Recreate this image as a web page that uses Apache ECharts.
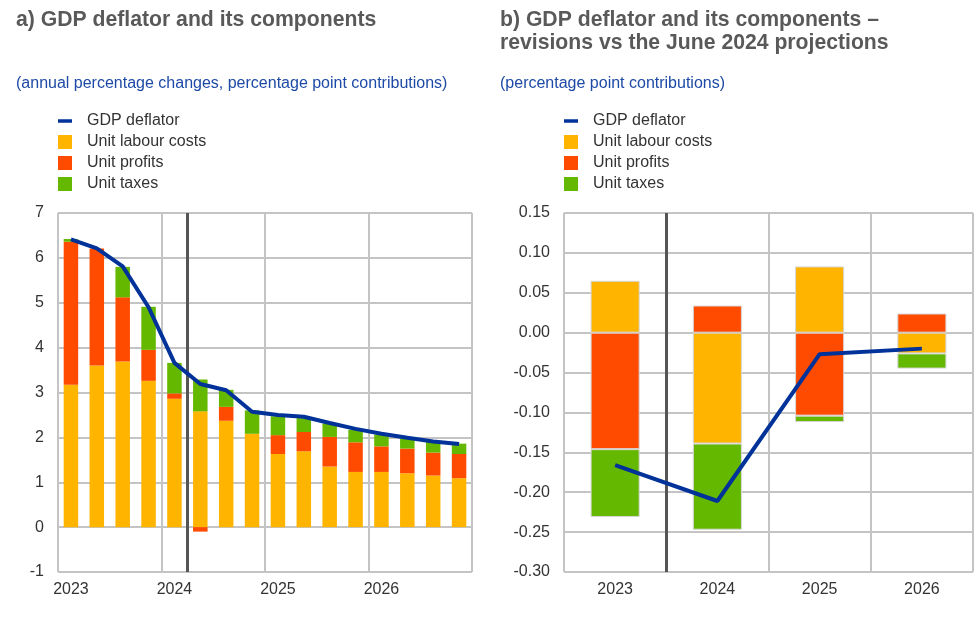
<!DOCTYPE html>
<html>
<head>
<meta charset="utf-8">
<script src="https://cdn.jsdelivr.net/npm/echarts@6/dist/echarts.min.js"></script>
<style>html,body{margin:0;padding:0;background:#fff}#c{width:976px;height:627px}</style>
</head>
<body>
<div id="c"></div>
<script>
// ---------- Data: panel a (quarterly) ----------
const quarters = ['2023Q1','2023Q2','2023Q3','2023Q4','2024Q1','2024Q2','2024Q3','2024Q4',
                  '2025Q1','2025Q2','2025Q3','2025Q4','2026Q1','2026Q2','2026Q3','2026Q4'];
const aGdpDeflator = [6.41,6.21,5.81,4.90,3.66,3.19,3.05,2.57,2.50,2.46,2.32,2.19,2.08,1.99,1.91,1.85];
const aUnitLabour  = [3.17,3.60,3.69,3.26,2.86,2.58,2.37,2.08,1.63,1.69,1.35,1.23,1.23,1.20,1.15,1.09];
const aUnitProfits = [3.19,2.61,1.43,0.69,0.12,-0.10,0.31,0.00,0.42,0.43,0.66,0.66,0.57,0.55,0.51,0.54];
const aUnitTaxes   = [0.06,0.00,0.68,0.96,0.68,0.71,0.38,0.52,0.42,0.31,0.30,0.28,0.26,0.22,0.24,0.23];
const aProjectionStart = 5;   // boundary index where projections begin
const aYAxis = {min:-1, max:7, interval:1};

// ---------- Data: panel b (annual revisions) ----------
const years = ['2023','2024','2025','2026'];
const bGdpDeflator = [-0.166,-0.211,-0.027,-0.020];
const bUnitLabour  = [0.065,-0.139,0.083,-0.026];
const bUnitProfits = [-0.146,0.034,-0.104,0.024];
const bUnitTaxes   = [-0.085,-0.108,-0.008,-0.019];
const bProjectionStart = 1;
const bYAxis = {min:-0.30, max:0.15, interval:0.05};

const names = ['GDP deflator','Unit labour costs','Unit profits','Unit taxes'];
const colors = {line:'#003299', ulc:'#FFB400', prof:'#FF4B00', tax:'#65B800'};
const FONT = 'Liberation Sans, Arial, sans-serif';
const gridColor = '#c4c4c4';

const chart = echarts.init(document.getElementById('c'));

function legend(left){
  return {
    left: left, top: 113, padding:0, orient:'vertical', itemWidth:14, itemHeight:14, itemGap:5,
    selectedMode:false,
    textStyle:{fontFamily:FONT, fontSize:16, color:'#333', padding:[0,0,0,10]},
    data:[
      {name:names[0], icon:'path://M0,0H16V4H0Z'},
      {name:names[1], icon:'rect'},
      {name:names[2], icon:'rect'},
      {name:names[3], icon:'rect'}
    ]
  };
}

function barSeries(name, data, color, gi, width, border){
  return {
    name:name, type:'bar', stack:'s'+gi, xAxisIndex:gi*2, yAxisIndex:gi,
    data:data, barWidth:width, z:2,
    itemStyle:{color:color, borderColor: border ? '#d6d6d6' : color, borderWidth: border ? 1 : 0}
  };
}

chart.setOption({
  animation:false,
  textStyle:{fontFamily:FONT},
  title:[
    {text:'a) GDP deflator and its components', left:16, top:9, padding:0,
     textStyle:{fontFamily:FONT, fontSize:21.2, fontWeight:'bold', color:'#595959', lineHeight:23}},
    {text:'(annual percentage changes, percentage point contributions)', left:16, top:76, padding:0,
     textStyle:{fontFamily:FONT, fontSize:16, fontWeight:'normal', color:'#1d4aa6', lineHeight:16}},
    {text:'b) GDP deflator and its components –\nrevisions vs the June 2024 projections', left:500, top:9, padding:0,
     textStyle:{fontFamily:FONT, fontSize:21.2, fontWeight:'bold', color:'#595959', lineHeight:23}},
    {text:'(percentage point contributions)', left:500, top:76, padding:0,
     textStyle:{fontFamily:FONT, fontSize:16, fontWeight:'normal', color:'#1d4aa6', lineHeight:16}}
  ],
  legend:[legend(58), legend(564)],
  grid:[
    {left:58, right:504, top:213, bottom:55},
    {left:564, right:3, top:213, bottom:55}
  ],
  xAxis:[
    {type:'category', gridIndex:0, data:quarters, boundaryGap:true,
     axisLine:{show:false}, axisTick:{show:false}, splitLine:{show:false},
     axisLabel:{interval:3, margin:10, fontSize:16, color:'#333', fontFamily:FONT,
                formatter:v=>v.slice(0,4)}},
    {type:'value', gridIndex:0, min:0, max:quarters.length, interval:4, position:'bottom',
     axisLine:{show:false}, axisTick:{show:false}, axisLabel:{show:false},
     splitLine:{show:true, lineStyle:{color:gridColor, width:2}}},
    {type:'category', gridIndex:1, data:years, boundaryGap:true,
     axisLine:{show:false}, axisTick:{show:false}, splitLine:{show:false},
     axisLabel:{margin:10, fontSize:16, color:'#333', fontFamily:FONT}},
    {type:'value', gridIndex:1, min:0, max:years.length, interval:1, position:'bottom',
     axisLine:{show:false}, axisTick:{show:false}, axisLabel:{show:false},
     splitLine:{show:true, lineStyle:{color:gridColor, width:2}}}
  ],
  yAxis:[
    {type:'value', gridIndex:0, min:aYAxis.min, max:aYAxis.max, interval:aYAxis.interval,
     axisLine:{show:false}, axisTick:{show:false},
     axisLabel:{margin:14, fontSize:16, color:'#333', fontFamily:FONT},
     splitLine:{show:true, lineStyle:{color:gridColor, width:2}}},
    {type:'value', gridIndex:1, min:bYAxis.min, max:bYAxis.max, interval:bYAxis.interval,
     axisLine:{show:false}, axisTick:{show:false},
     axisLabel:{margin:14, fontSize:16, color:'#333', fontFamily:FONT, formatter:v=>v.toFixed(2)},
     splitLine:{show:true, lineStyle:{color:gridColor, width:2}}}
  ],
  series:[
    {name:'projA', type:'line', xAxisIndex:1, yAxisIndex:0, data:[], z:1,
     markLine:{symbol:'none', silent:true, label:{show:false},
               lineStyle:{color:'#555', width:3, type:'solid'}, data:[{xAxis:aProjectionStart}]}},
    barSeries(names[1], aUnitLabour, colors.ulc, 0, '56%', false),
    barSeries(names[2], aUnitProfits, colors.prof, 0, '56%', false),
    barSeries(names[3], aUnitTaxes, colors.tax, 0, '56%', false),
    {name:names[0], type:'line', xAxisIndex:0, yAxisIndex:0, data:aGdpDeflator, z:5,
     symbol:'none', lineStyle:{color:colors.line, width:4}, itemStyle:{color:colors.line}},

    {name:'projB', type:'line', xAxisIndex:3, yAxisIndex:1, data:[], z:1,
     markLine:{symbol:'none', silent:true, label:{show:false},
               lineStyle:{color:'#555', width:3, type:'solid'}, data:[{xAxis:bProjectionStart}]}},
    barSeries(names[1], bUnitLabour, colors.ulc, 1, '48%', true),
    barSeries(names[2], bUnitProfits, colors.prof, 1, '48%', true),
    barSeries(names[3], bUnitTaxes, colors.tax, 1, '48%', true),
    {name:names[0], type:'line', xAxisIndex:2, yAxisIndex:1, data:bGdpDeflator, z:5,
     symbol:'none', lineStyle:{color:colors.line, width:4}, itemStyle:{color:colors.line}}
  ]
});
</script>
</body>
</html>
